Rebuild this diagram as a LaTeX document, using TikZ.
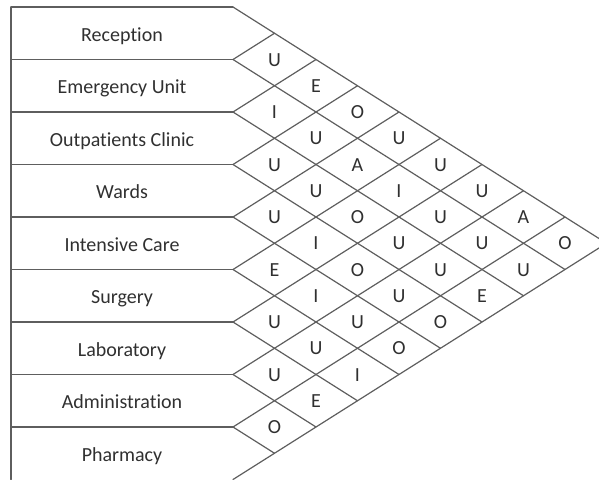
\documentclass[tikz,border=0pt]{standalone}
\usepackage{fontspec}
\setmainfont{Carlito}[Ligatures=NoCommon]
\definecolor{linec}{HTML}{5E5E5E}
\definecolor{textc}{HTML}{303030}
\begin{document}
\begin{tikzpicture}[x=1pt,y=-1pt,
  grid/.style={draw=linec,line width=1.2pt,line cap=round,line join=round},
  rowlabel/.style={font=\fontsize{20}{24}\selectfont,text=textc,inner sep=0pt,text height=13pt,text depth=0pt,anchor=center,yshift=-1.5pt},
  cell/.style={font=\fontsize{20}{24}\selectfont,text=textc,inner sep=0pt,text height=13pt,text depth=0pt,anchor=center}]
\useasboundingbox (0,0) rectangle (599,479);
\def\L{11}\def\X{233}\def\T{7}\def\H{52.5}\def\DX{41.5}\def\DY{26.25}
% named points
\foreach \k in {0,...,9}{
  \coordinate (l\k) at (\L,\T+\H*\k);
  \coordinate (s\k) at (\X,\T+\H*\k);
  \coordinate (t\k) at (\X+\DX*\k,\T+\DY*\k);
  \coordinate (b\k) at (\X+\DX*\k,\T+\H*9-\DY*\k);
}
% left edge and row separators
\draw[grid] (l0) -- (l9);
\foreach \k in {0,...,8}{ \draw[grid] (l\k) -- (s\k); }
% diagonals going up-right
\foreach \k in {1,...,9}{ \draw[grid] (s\k) -- (t\k); }
% diagonals going down-right
\foreach \k [evaluate=\k as \m using int(9-\k)] in {0,...,8}{ \draw[grid] (s\k) -- (b\m); }
% row labels
\foreach \r/\name in {1/Reception,2/Emergency Unit,3/Outpatients Clinic,4/Wards,5/Intensive Care,6/Surgery,7/Laboratory,8/Administration,9/Pharmacy}{
  \node[rowlabel] (row\r) at ({(\L+\X)/2},{\T+\H*(\r-0.5)}) {\name};
}
% relationship cells
\foreach \i/\j/\c in {1/2/U,1/3/E,1/4/O,1/5/U,1/6/U,1/7/U,1/8/A,1/9/O,
  2/3/I,2/4/U,2/5/A,2/6/I,2/7/U,2/8/U,2/9/U,
  3/4/U,3/5/U,3/6/O,3/7/U,3/8/U,3/9/E,
  4/5/U,4/6/I,4/7/O,4/8/U,4/9/O,
  5/6/E,5/7/I,5/8/U,5/9/O,
  6/7/U,6/8/U,6/9/I,
  7/8/U,7/9/E,
  8/9/O}{
  \node[cell] (c\i\j) at ({\X+\DX*(\j-\i)},{\T+\H*(\i+\j-1)/2}) {\c};
}
\end{tikzpicture}
\end{document}
